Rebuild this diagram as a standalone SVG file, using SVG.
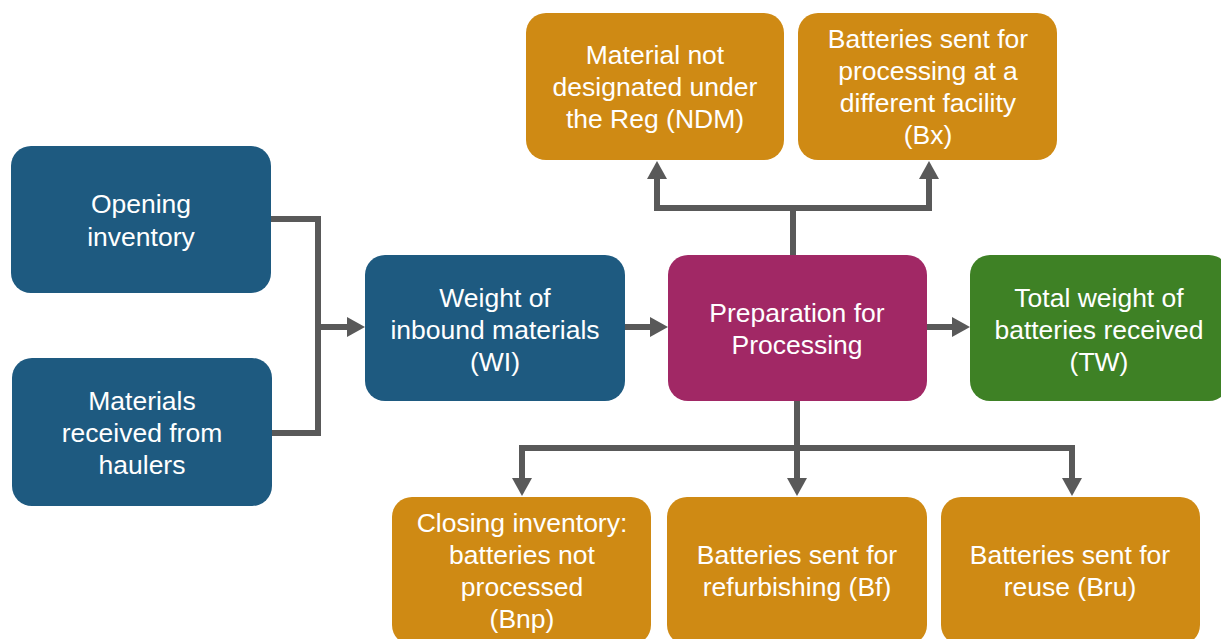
<svg xmlns="http://www.w3.org/2000/svg" width="1221" height="639" viewBox="0 0 1221 639">
<defs>
<style>
.box{rx:20;ry:20}
.blue{fill:#1E5A80}
.orange{fill:#CF8A14}
.mag{fill:#A12865}
.green{fill:#3E8125}
text{font-family:"Liberation Sans",Arial,sans-serif;font-size:26.5px;fill:#FFFFFF;text-anchor:middle}
.conn path{fill:none;stroke:#595959;stroke-width:6;stroke-linejoin:miter}
</style>
<marker id="ah" viewBox="0 -10 18 20" refX="1" refY="0" markerWidth="18" markerHeight="20" markerUnits="userSpaceOnUse" orient="auto">
<path d="M0,-10 L18,0 L0,10 z" fill="#595959"/>
</marker>
</defs>
<rect width="1221" height="639" fill="#FFFFFF"/>
<g class="conn" id="connectors">
<path d="M271,219 H318 V433 H272"/>
<path d="M318,327 H348" marker-end="url(#ah)"/>
<path d="M625,327 H651" marker-end="url(#ah)"/>
<path d="M927,327 H953" marker-end="url(#ah)"/>
<path d="M793,255 V208"/>
<path d="M657,179 V208 H929 V179"/>
<path d="M657,179 V178" marker-end="url(#ah)"/>
<path d="M929,179 V178" marker-end="url(#ah)"/>
<path d="M797,401 V448"/>
<path d="M522,478 V448 H1072 V478"/>
<path d="M522,478 V479" marker-end="url(#ah)"/>
<path d="M797,448 V479" marker-end="url(#ah)"/>
<path d="M1072,478 V479" marker-end="url(#ah)"/>
</g>
<g id="opening">
<rect class="box blue" x="11" y="146" width="260" height="147"/>
<text x="141" y="213">Opening</text>
<text x="141" y="246">inventory</text>
</g>
<g id="haulers">
<rect class="box blue" x="12" y="358" width="260" height="148"/>
<text x="142" y="410">Materials</text>
<text x="142" y="442">received from</text>
<text x="142" y="474">haulers</text>
</g>
<g id="wi">
<rect class="box blue" x="365" y="255" width="260" height="146"/>
<text x="495" y="307">Weight of</text>
<text x="495" y="339">inbound materials</text>
<text x="495" y="371">(WI)</text>
</g>
<g id="prep">
<rect class="box mag" x="668" y="255" width="259" height="146"/>
<text x="797" y="322">Preparation for</text>
<text x="797" y="354">Processing</text>
</g>
<g id="tw">
<rect class="box green" x="970" y="255" width="259" height="146"/>
<text x="1099" y="307">Total weight of</text>
<text x="1099" y="339">batteries received</text>
<text x="1099" y="371">(TW)</text>
</g>
<g id="ndm">
<rect class="box orange" x="526" y="13" width="258" height="147"/>
<text x="655" y="64">Material not</text>
<text x="655" y="96">designated under</text>
<text x="655" y="128">the Reg (NDM)</text>
</g>
<g id="bx">
<rect class="box orange" x="798" y="13" width="259" height="147"/>
<text x="928" y="48">Batteries sent for</text>
<text x="928" y="80">processing at a</text>
<text x="928" y="112">different facility</text>
<text x="928" y="144">(Bx)</text>
</g>
<g id="bnp">
<rect class="box orange" x="392" y="497" width="259" height="148"/>
<text x="522" y="532">Closing inventory:</text>
<text x="522" y="564">batteries not</text>
<text x="522" y="596">processed</text>
<text x="522" y="628">(Bnp)</text>
</g>
<g id="bf">
<rect class="box orange" x="667" y="497" width="260" height="148"/>
<text x="797" y="564">Batteries sent for</text>
<text x="797" y="596">refurbishing (Bf)</text>
</g>
<g id="bru">
<rect class="box orange" x="941" y="497" width="259" height="148"/>
<text x="1070" y="564">Batteries sent for</text>
<text x="1070" y="596">reuse (Bru)</text>
</g>
</svg>
